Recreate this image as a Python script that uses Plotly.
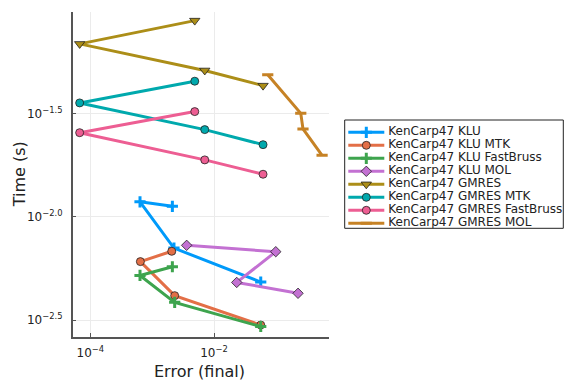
import plotly.graph_objects as go

names = ["KenCarp47 KLU", "KenCarp47 KLU MTK", "KenCarp47 KLU FastBruss", "KenCarp47 KLU MOL",
         "KenCarp47 GMRES", "KenCarp47 GMRES MTK", "KenCarp47 GMRES FastBruss", "KenCarp47 GMRES MOL"]

klu_err = [2.12e-3, 6.35e-4, 2.25e-3, 5.70e-2]
klu_time = [1.125e-2, 1.183e-2, 7.06e-3, 4.83e-3]
klu_mtk_err = [2.07e-3, 6.44e-4, 2.31e-3, 5.70e-2]
klu_mtk_time = [6.81e-3, 6.07e-3, 4.15e-3, 2.99e-3]
klu_fb_err = [2.12e-3, 6.35e-4, 2.31e-3, 5.70e-2]
klu_fb_time = [5.73e-3, 5.20e-3, 3.85e-3, 2.94e-3]
klu_mol_err = [3.61e-3, 9.98e-2, 2.33e-2, 0.2286]
klu_mol_time = [7.28e-3, 6.78e-3, 4.81e-3, 4.26e-3]
gm_err = [4.88e-3, 6.71e-5, 7.08e-3, 6.21e-2]
gm_time = [8.95e-2, 6.90e-2, 5.13e-2, 4.33e-2]
gm_mtk_err = [4.88e-3, 6.71e-5, 7.08e-3, 6.21e-2]
gm_mtk_time = [4.55e-2, 3.57e-2, 2.65e-2, 2.24e-2]
gm_fb_err = [4.88e-3, 6.71e-5, 7.08e-3, 6.21e-2]
gm_fb_time = [3.24e-2, 2.56e-2, 1.89e-2, 1.61e-2]
gm_mol_err = [7.40e-2, 0.253, 0.275, 0.560]
gm_mol_time = [4.89e-2, 3.18e-2, 2.67e-2, 1.99e-2]

xs = [klu_err, klu_mtk_err, klu_fb_err, klu_mol_err, gm_err, gm_mtk_err, gm_fb_err, gm_mol_err]
ys = [klu_time, klu_mtk_time, klu_fb_time, klu_mol_time, gm_time, gm_mtk_time, gm_fb_time, gm_mol_time]

colors = ["#009AFA", "#E36F47", "#3EA44E", "#C371D2", "#AC8E18", "#00A9AD", "#ED5E93", "#C68225"]
symbols = ["cross-thin", "circle", "cross-thin", "diamond", "triangle-down", "circle", "circle", "line-ew"]

xtick_vals = [1e-4, 1e-2]
xtick_text = ["10<sup>−4</sup>", "10<sup>−2</sup>"]
ytick_vals = [10**-2.5, 10**-2.0, 10**-1.5]
ytick_text = ["10<sup>−2.5</sup>", "10<sup>−2.0</sup>", "10<sup>−1.5</sup>"]

# the page body adds an 8px margin; size the figure so it ends at the window edge
OFF = 8
W, H = 576 - OFF, 384 - OFF
font = "DejaVu Sans"
ink = "#222222"


def px(v):
    return v - OFF


# plot area (window pixels)
PL, PR, PT, PB = px(72.7), px(329), px(11.7), px(336.7)
# legend box (window pixels)
LL, LR, LT, LB = px(344.7), px(563.3), px(120), px(228.3)


def marker_style(c, s):
    thin = s in ("cross-thin", "line-ew")
    size = 9 if s == "triangle-down" else 8
    return dict(symbol=s, size=size, color=c,
                line=dict(color=c if thin else ink, width=3 if thin else 0.8))


fig = go.Figure()
for n, x, y, c, s in zip(names, xs, ys, colors, symbols):
    fig.add_trace(go.Scatter(
        x=x, y=y, name=n, mode="lines+markers", showlegend=False,
        line=dict(color=c, width=3),
        marker=marker_style(c, s),
        xaxis="x", yaxis="y",
    ))

# legend drawn in a second, hidden coordinate system (pixel units)
row0, rowstep = px(132.3), 13.0
for i, (n, c, s) in enumerate(zip(names, colors, symbols)):
    ry = row0 + rowstep * i
    fig.add_trace(go.Scatter(x=[px(348.3), px(384.3)], y=[ry, ry], mode="lines", showlegend=False,
                             line=dict(color=c, width=3), xaxis="x2", yaxis="y2", hoverinfo="skip"))
    fig.add_trace(go.Scatter(x=[px(366.3)], y=[ry], mode="markers", showlegend=False,
                             marker=marker_style(c, s), xaxis="x2", yaxis="y2", hoverinfo="skip"))
    fig.add_trace(go.Scatter(x=[px(388.3)], y=[ry], mode="text", text=[n], textposition="middle right",
                             textfont=dict(size=12, family=font, color=ink), showlegend=False,
                             xaxis="x2", yaxis="y2", hoverinfo="skip"))

axis_common = dict(showgrid=True, gridcolor="#EBEBEB", gridwidth=1, zeroline=False,
                   showline=True, linecolor="#555555", linewidth=1.5, mirror=False,
                   ticks="inside", ticklen=4, tickcolor="#555555",
                   tickfont=dict(size=12, family=font, color=ink), automargin=False)

fig.update_layout(
    width=W, height=H,
    margin=dict(l=0, r=0, t=0, b=0),
    plot_bgcolor="white", paper_bgcolor="white",
    font=dict(family=font, color=ink),
    showlegend=False,
    xaxis=dict(type="log", range=[-4.286, -0.14], tickvals=xtick_vals, ticktext=xtick_text,
               domain=[PL / W, PR / W], anchor="y", ticklabelstandoff=4, **axis_common),
    yaxis=dict(type="log", range=[-2.581, -1.005], tickvals=ytick_vals, ticktext=ytick_text,
               domain=[1 - PB / H, 1 - PT / H], anchor="x", ticklabelstandoff=6, **axis_common),
    xaxis2=dict(range=[LL, LR], domain=[LL / W, LR / W], anchor="y2", visible=False, fixedrange=True),
    yaxis2=dict(range=[LB, LT], domain=[1 - LB / H, 1 - LT / H], anchor="x2", visible=False, fixedrange=True),
    shapes=[dict(type="rect", xref="x2 domain", yref="y2 domain", x0=0, x1=1, y0=0, y1=1,
                 line=dict(color=ink, width=1), fillcolor="rgba(0,0,0,0)", layer="below")],
    annotations=[
        dict(text="Error (final)", x=px(199.3) / W, y=1 - px(371.7) / H, xref="paper", yref="paper",
             showarrow=False, font=dict(size=16, family=font, color=ink), xanchor="center", yanchor="middle"),
        dict(text="Time (s)", x=px(8.5) / W, y=1 - px(174.2) / H, xref="paper", yref="paper", textangle=-90,
             showarrow=False, font=dict(size=16, family=font, color=ink), xanchor="left", yanchor="middle",
             borderpad=0),
    ],
)

fig.write_html("out.html")
